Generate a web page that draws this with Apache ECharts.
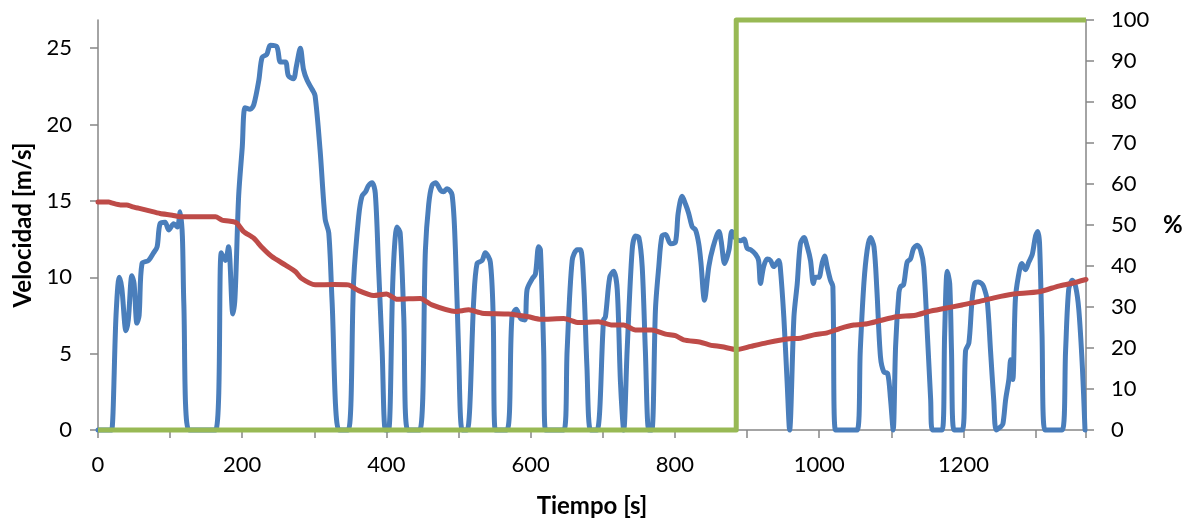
<!DOCTYPE html>
<html>
<head>
<meta charset="utf-8">
<script src="https://cdn.jsdelivr.net/npm/echarts@6/dist/echarts.min.js"></script>
<style>
html,body{margin:0;padding:0;background:#fff;}
#chart{width:1195px;height:525px;}
</style>
</head>
<body>
<div id="chart"></div>
<script>
// Blue series: speed [m/s] vs time [s]
const speedTime = [0,17,19,25,29.5,33,38.8,42,47,50,54,57,61,70,77,82,86,93,98,105,110,114,117,119,126,163,171,176.6,181,187,190,195,200,204,211,216,223,227.5,234,239,248,253,260,264,271,275,280.6,285,290,297,301,308,315,320,324.5,334,347,354.5,361.5,366,371,375,380,384.5,389,394,398.5,403,409,414.7,419,424,429.5,446,454,458.6,463,468,475,479,484,491,495.6,500,505,512,521,525.6,532.6,537,544,548,551,567,574,580,586,592,595,602,606.5,611,613.5,618,620.5,646,650.5,657.5,664.5,669,673.5,678,683,692,701,703.6,709.6,715,720,724.5,729,733.7,740.7,745.3,750,754.6,759,763.7,768,773,777.6,782,787,794,800.7,804.5,810,814.6,819,824,828.5,833,836,841,847,853,861,864,869,875,879,885,891,896,900,905,912,916,918.6,923,928,932.5,937,944,946,951,955.6,959,965,969.6,974,979,983.5,988,992,995,999.5,1004,1007.5,1011,1015.7,1019,1022.6,1052.7,1057,1062,1066.6,1071,1076,1080,1085,1089.7,1095,1099,1102.6,1106,1110.6,1113,1117,1122,1126.6,1131,1136,1140.5,1145,1150,1154.6,1157,1170.6,1174,1177.6,1181,1183.5,1187,1198.4,1203,1207.6,1212,1215.7,1220.6,1225,1228,1233,1237.6,1242,1245.5,1251.5,1254.8,1258.6,1263,1265.5,1268.5,1272,1276,1281,1286,1290.7,1295.5,1300,1303,1305.6,1309,1313,1337,1341.7,1346,1351,1355.6,1360,1365,1368.6];
const speedValues = [0,0,0,7.5,10.0,9.3,6.5,7.2,10.1,9.6,7.0,7.5,10.9,11.1,11.6,12.0,13.5,13.6,13.1,13.5,13.3,14.3,12.7,8.3,0,0,11.6,11.1,12.0,7.6,8.7,15.3,18.5,21.1,21.0,21.3,22.9,24.4,24.6,25.2,25.1,24.1,24.1,23.2,23.0,23.8,25.0,23.6,22.9,22.3,21.9,18.3,13.8,12.9,8.5,0,0,9.8,14.0,15.3,15.6,16.0,16.2,15.5,10.7,5.2,0,0,10.0,13.3,12.9,7.4,0,0,11.8,14.8,16.0,16.2,15.7,15.6,15.8,15.4,11.8,5.2,0,0,8.5,10.9,11.1,11.6,11.0,7.4,0,0,7.4,7.9,7.3,7.2,9.2,9.9,10.2,12.0,11.8,5.2,0,0,5.2,11.1,11.8,11.8,9.6,4.1,0,0,7.2,7.4,10.0,10.4,9.2,3.1,0,5.2,11.8,12.7,12.6,10.7,5.2,0,0,7.9,10.7,12.7,12.8,12.2,12.3,14.2,15.3,14.8,14.2,13.3,13.1,12.2,11.0,8.5,10.7,12.0,13.0,12.4,10.9,11.8,13.0,12.5,12.4,12.5,11.9,11.8,11.5,11.1,9.6,10.7,11.2,11.1,10.7,11.1,10.7,7.4,3.1,0,7.4,9.6,12.2,12.6,12.0,11.1,9.6,10.0,10.0,10.9,11.4,10.7,9.8,9.4,0,0,5.2,9.6,11.8,12.6,12.0,9.2,4.8,3.8,3.7,2.0,0,5.5,9.0,9.4,9.5,11.0,11.2,11.9,12.1,11.8,10.7,6.3,2.0,0,0,6.3,10.4,9.6,5.2,0,0,5.2,5.7,8.5,9.6,9.7,9.6,9.4,8.5,5.2,2.0,0,0.2,0.4,2.0,3.3,4.6,3.3,8.5,10.0,10.9,10.5,11.0,11.5,12.7,13.0,12.2,6.3,0,0,5.2,9.2,9.8,9.4,7.9,4.1,0];

// Red series: percentage [%] vs time [s]
const socTime = [0,15,19,31,40,47,56,70,86,103,114,163,172,188,193,202,216,227.5,241,260,274,282,301,327,347,361.5,382,400,414.7,447,463,495.6,514,532.6,569,597,613.5,646,666.6,694,713,729,745,768,787,800.7,812,835.5,849,865.5,885,905,928,955.6,974,992.7,1011,1029.5,1048,1066.6,1085,1107,1133.6,1152,1175,1198,1221,1244,1267.6,1304.6,1332,1351,1370];
const socValues = [55.6,55.6,55.4,54.9,54.9,54.5,54.1,53.5,52.8,52.4,52.0,52.0,51.2,50.8,50.4,48.4,46.8,44.5,42.3,40.2,38.6,37.0,35.4,35.5,35.4,34.0,32.8,33.2,31.9,32.1,30.5,28.9,29.3,28.5,28.3,27.6,27.0,27.2,26.2,26.4,25.6,25.6,24.4,24.4,23.4,23.0,22.0,21.4,20.7,20.3,19.6,20.4,21.3,22.2,22.4,23.2,23.7,24.8,25.6,25.9,26.7,27.6,28.0,28.9,29.7,30.5,31.3,32.3,33.1,33.7,35.1,35.8,36.7];

// Green series: on/off signal [%] vs time [s]
const flagTime = [0,885,885,1370];
const flagValues = [0,0,100,100];

// Axis ticks
const leftTicks = [0,5,10,15,20,25];
const xLabelStep = 200;

const zip = (a,b) => a.map((t,i) => [t, b[i]]);

const axisColor = '#868686';
const font = 'Lato, "Open Sans", sans-serif';
const tickFont = {fontFamily: font, fontSize: 22, color: '#000'};
const titleFont = {fontFamily: font, fontWeight: 'bold', fontSize: 24, color: '#000'};

const chart = echarts.init(document.getElementById('chart'), null, {renderer:'canvas'});
chart.setOption({
  animation: false,
  backgroundColor: '#ffffff',
  grid: {left: 98, right: 109, top: 20, bottom: 95, containLabel: false},
  xAxis: {
    type: 'value', min: 0, max: 1370, interval: 100,
    name: 'Tiempo [s]', nameLocation: 'middle', nameGap: 64,
    nameTextStyle: titleFont,
    axisLine: {show: true, lineStyle: {color: axisColor, width: 1.5}},
    axisTick: {show: true, inside: false, length: 8, lineStyle: {color: axisColor, width: 1.5}},
    axisLabel: Object.assign({margin: 24,
      formatter: v => (v % xLabelStep === 0 ? String(v) : '')}, tickFont),
    splitLine: {show: false}
  },
  yAxis: [{
    type: 'value', min: 0, max: 26.85,
    name: 'Velocidad [m/s]', nameLocation: 'middle', nameGap: 63, nameRotate: 90,
    nameTextStyle: titleFont,
    axisLine: {show: true, lineStyle: {color: axisColor, width: 1.5}},
    axisTick: {show: true, length: 8, customValues: leftTicks, lineStyle: {color: axisColor, width: 1.5}},
    axisLabel: Object.assign({margin: 26, customValues: leftTicks}, tickFont),
    splitLine: {show: false}
  }, {
    type: 'value', min: 0, max: 100, interval: 10, position: 'right',
    name: '%', nameLocation: 'middle', nameGap: 77, nameRotate: 0,
    nameTextStyle: Object.assign({align: 'left'}, titleFont),
    axisLine: {show: true, lineStyle: {color: axisColor, width: 1.5}},
    axisTick: {show: true, length: 8, lineStyle: {color: axisColor, width: 1.5}},
    axisLabel: Object.assign({margin: 25}, tickFont),
    splitLine: {show: false}
  }],
  series: [{
    name: 'Velocidad', type: 'line', yAxisIndex: 0, data: zip(speedTime, speedValues),
    showSymbol: false, clip: false, smooth: 0.3,
    lineStyle: {color: '#4A7EBB', width: 5, join: 'round', cap: 'round'}
  }, {
    name: 'SOC', type: 'line', yAxisIndex: 1, data: zip(socTime, socValues),
    showSymbol: false, clip: false, smooth: 0.2,
    lineStyle: {color: '#BE4B48', width: 5, join: 'round', cap: 'round'}
  }, {
    name: 'Señal', type: 'line', yAxisIndex: 1, data: zip(flagTime, flagValues),
    showSymbol: false, clip: false,
    lineStyle: {color: '#98B954', width: 5, join: 'round'}
  }]
});
</script>
</body>
</html>
